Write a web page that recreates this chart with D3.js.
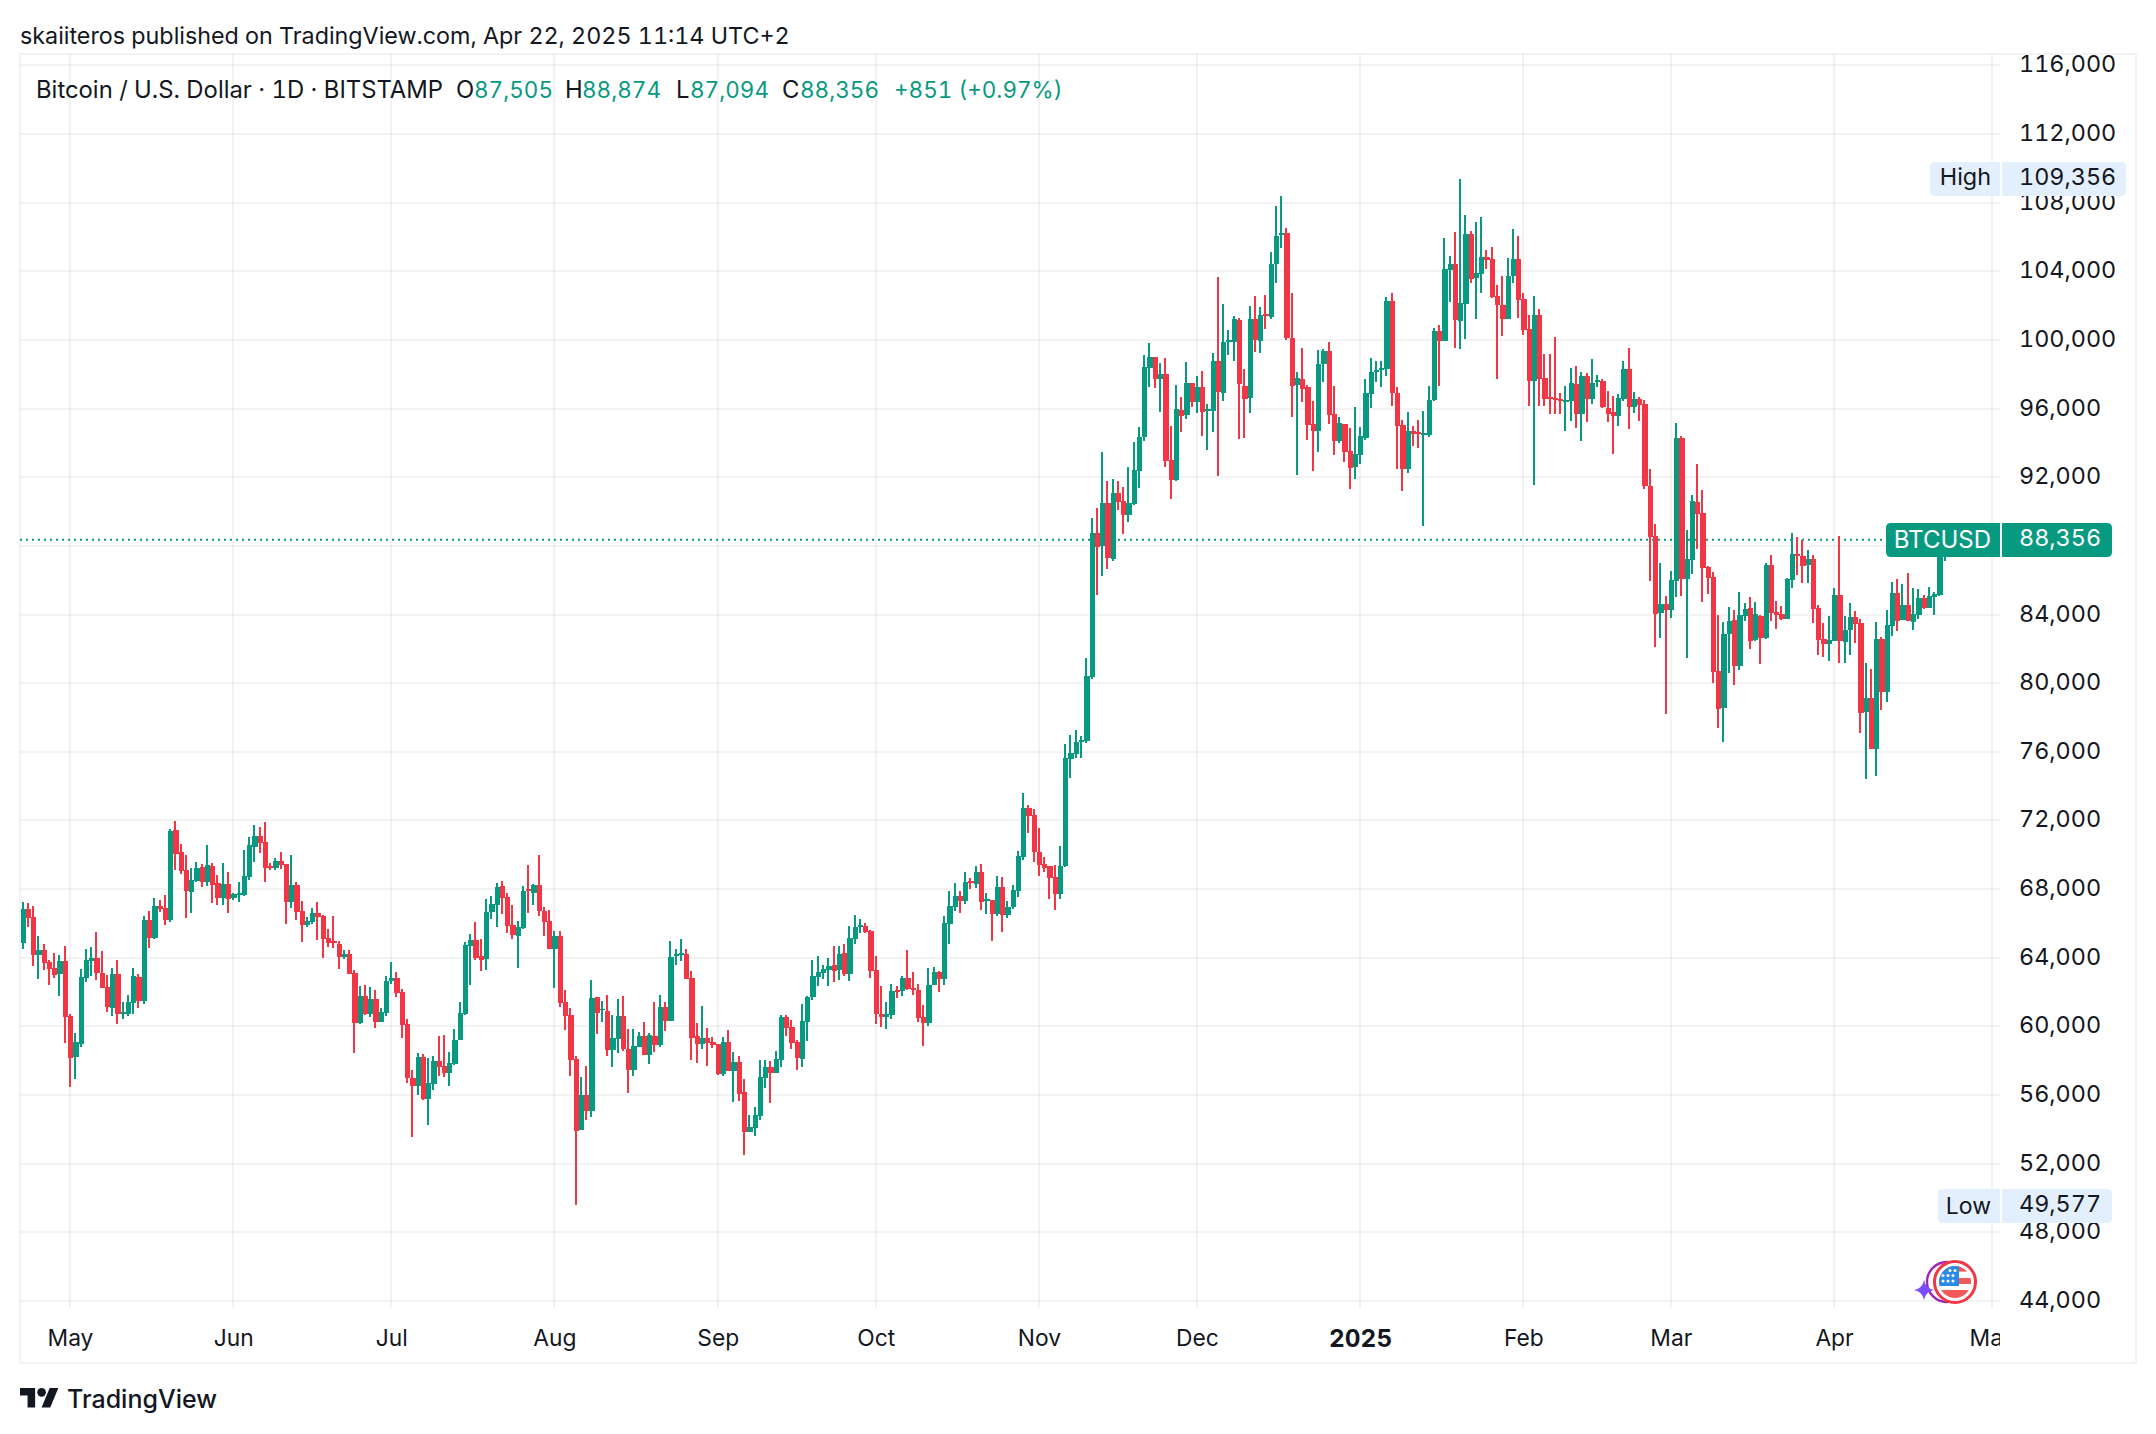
<!DOCTYPE html>
<html>
<head>
<meta charset="utf-8">
<title>Bitcoin / U.S. Dollar</title>
<script src="https://cdn.jsdelivr.net/npm/d3@7"></script>
<style>
  html, body { margin: 0; padding: 0; background: #fff; }
  svg { display: block; }
  text { font-family: Inter, "Noto Sans", sans-serif; fill: #131722; font-variant-numeric: tabular-nums; font-feature-settings: "tnum" 1; }
</style>
</head>
<body>
<svg id="chart" width="2156" height="1434"></svg>
<script>
// Daily BTCUSD candles, first session 22 Apr 2024, last session 22 Apr 2025.
const firstSession = "2024-04-22";

const opens = [
64870,66830,66360,64170,64440,63740,63390,63040,63800,60590,
58230,58960,62810,63800,63970,63100,62280,61060,63040,60710,
60710,61350,62870,61470,66190,65140,67000,66890,66190,71430,
70150,69100,67820,68460,69280,68400,69330,68340,67470,68290,
67470,67640,67640,68690,70440,71080,70730,69330,69220,69630,
69450,67240,68230,66710,65900,66070,66600,66420,65140,64960,
64790,64030,64210,63100,60190,61760,60710,61590,60250,60770,
62630,62810,61990,60130,56980,56520,58210,55760,56630,57970,
57680,57270,57800,59200,60710,64670,65020,64090,63920,66650,
67060,68170,67530,65900,65260,65720,67990,67760,68230,66710,
66130,64500,65260,61410,60650,58090,53950,55990,55060,61690,
60950,60890,58610,59260,60600,58670,57450,58790,59430,58320,
59430,58910,61120,60300,64090,64150,64210,62810,59430,58960,
59310,59080,58960,57220,59080,57390,57920,56170,53840,54070,
54770,56980,57620,57270,58030,60540,59950,59080,58090,60250,
61700,62870,63100,63280,63570,63280,64270,63040,65080,65780,
65840,65550,63280,60710,60540,60650,62110,62050,62810,62230,
62110,60540,60190,62400,63160,62750,65960,66950,67590,67300,
68460,68290,68980,67300,67350,66540,68110,66480,66950,67880,
69860,72710,72310,70150,69450,69330,68690,67700,69330,75570,
75860,76560,76620,80340,88730,87980,90480,87220,91060,90600,
89780,90420,92350,94330,98350,98990,97710,98000,92990,91820,
95900,95610,97470,96370,97240,95840,95840,98760,96890,99860,
99860,101140,97300,96600,101200,99920,101490,101320,104410,106100,
106210,100100,97360,97710,97240,95090,94680,98580,99340,95670,
94090,95080,93510,92580,93280,94270,96830,98110,98230,98290,
102250,96890,95030,92460,94680,94620,94440,94440,96480,100500,
99920,104060,104410,101090,102080,106150,103590,103820,104810,104700,
102540,102020,101200,103710,104700,102370,100620,97590,101440,97770,
96660,96600,96540,96370,96430,97420,95670,97880,96540,97530,
97590,96020,95780,95550,96540,98290,96080,96540,96250,91470,
88560,84070,84600,84250,85940,94270,86050,87160,90540,89900,
86750,86170,80700,78540,82850,83670,80990,83900,84370,82500,
83900,82620,86870,84130,84020,83720,86000,87510,87390,86870,
87220,84370,82560,82270,82440,85120,82380,83080,83840,83490,
78310,79120,76150,82560,79470,83320,85240,83670,84540,83550,
83960,84950,84370,85010,85120,87505
];

const highs = [
67240,67180,67000,65260,64790,63860,64270,64150,64670,60750,
59600,63330,64500,64620,65490,64380,62980,63390,63860,61410,
61820,63390,63040,66420,66710,67470,67350,67640,71490,71960,
70620,69970,69220,69570,69450,70560,69510,68810,69510,68980,
67760,68400,70270,71020,71720,71610,71900,69510,69800,70150,
69490,69970,68400,67300,66360,66890,67240,66480,65660,66420,
64960,64440,64440,63280,62340,62400,62280,62110,61060,62920,
63740,63160,62170,60420,57450,58440,58380,58150,58260,59430,
59490,58500,59840,61410,64910,65370,66070,65080,67410,67590,
68340,68460,67760,67060,66130,68170,69390,68290,69980,66950,
66770,65550,65550,62110,61060,58260,57040,57680,62690,61700,
61470,61820,60650,61590,61760,59840,59840,59660,60250,59610,
61410,61820,61410,64970,64500,65080,64500,63220,60190,61180,
59900,59370,59000,59370,59780,58500,58260,56930,54830,55290,
58030,58030,57970,58560,60650,60650,60360,59200,61290,61760,
63860,64090,63570,63970,64670,64670,64790,65840,66480,66250,
66010,65610,64090,62340,61410,62460,62340,62930,64440,63160,
62460,61240,63390,63450,63220,66420,67880,68340,67880,68980,
68640,69330,69450,67760,67350,68750,68690,67300,68230,70210,
73610,72890,72660,71550,69860,69330,69390,70500,76440,76970,
77260,76910,81450,89610,90190,93450,91760,91880,91760,91410,
92580,94040,94900,99100,99800,99000,98640,98930,94970,97360,
96660,98700,97480,97880,98170,96250,99220,103650,102080,100560,
101380,101260,98290,101960,102540,101900,102600,105110,107790,108370,
106500,102720,98110,99510,97360,96430,99400,99450,99860,97300,
95490,95090,94850,96080,94910,97710,98930,98760,98760,102480,
102720,97240,95320,95780,94970,95320,95840,97300,100680,100850,
105920,104870,106270,109356,107260,106330,106850,107150,105220,105400,
103180,103710,104760,106450,106040,102720,101440,102540,101790,99160,
99160,100150,96890,97300,98350,98460,98110,98060,98870,97940,
97710,97010,96720,96830,98760,99510,96950,96660,96480,92460,
89260,86990,85060,86520,95140,94390,88910,90950,92750,91240,
86810,86460,83960,83550,84420,84250,85300,84660,85010,84710,
83960,86990,87450,84770,84480,86110,88730,88500,88330,87740,
87450,84540,83490,83900,85530,88560,83900,84660,84190,83720,
81160,80810,83550,82680,84250,85880,86050,85760,86400,85530,
85470,85120,85590,85300,88560,88874
];

const lows = [
64520,65800,63510,62750,63280,62400,62810,61760,59020,56480,
56920,58810,62580,62920,62690,62230,60830,60590,60130,60420,
60590,60710,61060,61290,64560,65080,66650,65900,66070,69100,
68870,66300,66600,68400,68110,68170,67180,67060,67060,66600,
67350,67240,67590,68520,69570,70090,68400,69100,69100,69160,
65960,66890,66190,64910,65780,65960,65020,63970,64620,64560,
63330,63920,63030,58440,60150,60650,60540,59900,60240,60590,
62460,61700,59310,56690,53550,55990,55700,54250,56280,57100,
57040,56520,57740,59190,60650,62400,63860,63220,63280,66250,
65780,66540,65430,65080,63390,65660,66600,67060,66420,65260,
64490,62230,61120,59780,57100,49577,53940,54540,54710,59550,
60250,58260,57620,58440,58560,56110,57100,58780,58310,57800,
58500,58790,59720,60290,63570,63800,62740,58030,57860,58670,
57680,58730,57160,57100,57380,55590,55640,52500,53830,53600,
54540,56400,55530,57260,57620,59430,58670,57450,57620,59140,
61530,62340,62750,62340,62580,62690,62930,62630,64790,65430,
65430,62810,60130,59950,59840,60420,61640,61760,62110,61820,
60250,58850,60010,62390,61990,62400,64790,66710,66600,67120,
67990,68050,66770,66540,64960,66420,65490,66300,66830,67530,
69680,71260,69570,68750,68980,67410,66770,67410,69280,74460,
75630,75630,76500,80230,85120,86230,86640,87100,90070,88680,
89380,90370,91360,94090,97240,97180,95780,92580,90720,91760,
94620,95380,96080,95730,94390,93570,94620,92060,96430,99100,
98760,94210,94270,95730,99280,99220,100620,101200,103300,105340,
99980,95490,92110,96370,94150,92350,93450,97530,95090,93280,
93980,92870,91300,91880,92750,94150,96020,97530,97240,97880,
96130,92460,91180,92230,93800,93690,89140,94330,96430,97300,
99910,102190,99510,99450,100040,103300,101200,102720,104110,102430,
97710,100210,101190,103300,101260,100270,96130,91530,96130,96130,
95670,95670,95670,94680,95260,94850,94100,95200,96250,97240,
96020,95200,93340,94970,96430,94790,95730,95260,91300,85940,
82090,82620,78190,83780,85010,85060,81450,86350,87800,84710,
85180,80000,77370,76560,80580,79880,80750,83610,81980,82440,
81100,82560,83610,83140,83670,83710,85530,86290,85820,85820,
83490,81630,81510,81280,82430,81160,81160,81630,82330,77080,
74400,76140,74580,78420,78890,82730,83030,83660,83600,83080,
83720,84310,84360,83960,85060,87094
];

const closes = [
66830,66300,64170,64440,63700,63330,63000,63800,60560,58150,
59080,62870,63860,63970,63100,62230,61120,63040,60710,60830,
61410,62920,61470,66190,65140,67000,66830,66190,71370,70030,
69040,67880,68520,69220,68400,69390,68230,67470,68290,67410,
67700,67760,68750,70560,71080,70670,69220,69220,69630,69390,
67240,68230,66650,65900,66130,66600,66360,65080,64850,64850,
64030,64210,63040,60190,61760,60710,61590,60250,60830,62630,
62810,61940,60090,56980,56520,58210,55760,56690,57970,57620,
57270,57860,59200,60770,64730,65020,63970,63860,66650,67120,
68110,67470,65840,65310,65780,67880,67880,68230,66710,66070,
64500,65260,61350,60600,58030,53900,55990,55060,61640,60770,
61000,58610,59310,60600,58670,57450,58850,59430,58320,59490,
58910,61120,60300,64030,64210,64270,62750,59310,58960,59310,
59020,58910,57220,59080,57390,57920,56050,53840,54130,54830,
57040,57620,57270,58090,60540,59900,59020,58150,60300,61700,
62930,63160,63330,63510,63220,64210,63040,65140,65780,65900,
65490,63220,60710,60540,60710,62050,61990,62810,62170,62110,
60480,60190,62400,63160,62750,66010,67000,67590,67300,68400,
68340,68980,67240,67410,66540,68110,66480,66950,67940,69920,
72710,72250,70150,69390,69220,68640,67700,69330,75630,75920,
76560,76670,80400,88730,87920,90480,87280,91060,90540,89780,
90480,92400,94330,98410,98990,97710,98000,92930,91820,95960,
95550,97470,96370,97240,95780,95960,98760,96950,99860,99980,
101200,97420,96540,101200,99980,101440,101380,104410,106040,106210,
100100,97300,97770,97120,95030,94680,98580,99340,95610,94090,
95140,93450,92520,93340,94390,96890,98110,98230,98350,102250,
96890,94970,92460,94680,94500,94500,94560,96480,100500,99920,
104120,104410,101140,102130,106150,103530,103880,104810,104640,102480,
102020,101200,103710,104700,102310,100560,97590,101440,97710,96540,
96540,96480,96430,96480,97470,95670,97880,96540,97470,97650,
96080,95670,95550,96600,98290,96080,96540,96190,91470,88500,
84020,84600,84250,86000,94270,86050,87220,90600,89840,86700,
86110,80640,78480,82850,83610,80990,83960,84310,82440,84020,
82620,86870,84070,83960,83720,86050,87510,87390,86810,87220,
84310,82500,82270,82500,85120,82440,83080,83840,83430,78250,
79120,76150,82560,79470,83370,85240,83610,84540,83610,84020,
84950,84370,85060,85180,87505,88356
];

const priceTicks = d3.range(44000, 116001, 4000);
const monthTicks = ["2024-05-01","2024-06-01","2024-07-01","2024-08-01","2024-09-01","2024-10-01",
                    "2024-11-01","2024-12-01","2025-01-01","2025-02-01","2025-03-01","2025-04-01","2025-05-01"];
const headerLabels = [
  { text: "Bitcoin / U.S. Dollar · 1D · BITSTAMP", x: 36, up: false },
  { text: "O", x: 456, up: false }, { text: "87,505", x: 474, up: true },
  { text: "H", x: 565, up: false }, { text: "88,874", x: 582, up: true },
  { text: "L", x: 676, up: false }, { text: "87,094", x: 690, up: true },
  { text: "C", x: 782, up: false }, { text: "88,356", x: 800, up: true },
  { text: "+851 (+0.97%)", x: 894, up: true }
];
const lastPrice = 88356, highPrice = 109356, lowPrice = 49577;

const UP = "#089981", DOWN = "#F23645", GRID = "rgba(46,46,46,0.06)", TAG = "#E3EFFD";
const paneLeft = 20, paneRight = 1992, paneTop = 54, paneBottom = 1308, frameRight = 2136, frameBottom = 1363;
const NUMBER_SIZE = 23.4, LEGEND_SIZE = 23.85, LEGEND_NUMBER_SIZE = 22.5;

const parse = d3.utcParse("%Y-%m-%d");
const x = d3.scaleUtc().domain([parse("2024-05-01"), parse("2025-05-01")]).range([70, 1992]);
const y = d3.scaleLinear().domain([44000, 116000]).range([1301, 65.3]);
const dayOf = i => d3.utcDay.offset(parse(firstSession), i);
const svg = d3.select("#chart");

const defs = svg.append("defs");
defs.append("clipPath").attr("id", "pane").append("rect")
  .attr("x", paneLeft).attr("y", paneTop).attr("width", paneRight - paneLeft).attr("height", paneBottom - paneTop);
defs.append("clipPath").attr("id", "timeScale").append("rect")
  .attr("x", paneLeft).attr("y", paneBottom).attr("width", 2000 - paneLeft).attr("height", frameBottom - paneBottom);

svg.append("rect").attr("width", 2156).attr("height", 1434).attr("fill", "#fff");

// Publisher line and outer frame
svg.append("text").attr("x", 20).attr("y", 36).attr("dy", "0.35em").attr("font-size", 23.3)
  .text("skaiiteros published on TradingView.com, Apr 22, 2025 11:14 UTC+2");
svg.append("rect").attr("x", 20).attr("y", 54).attr("width", frameRight - 20).attr("height", frameBottom - 54)
  .attr("fill", "none").attr("stroke", GRID).attr("stroke-width", 2);

// Grid
const grid = svg.append("g").attr("shape-rendering", "crispEdges").attr("stroke", GRID).attr("stroke-width", 2);
grid.selectAll("line.h").data(priceTicks).join("line").attr("class", "h")
  .attr("x1", paneLeft).attr("x2", 2000).attr("y1", d => y(d)).attr("y2", d => y(d));
grid.selectAll("line.v").data(monthTicks).join("line").attr("class", "v")
  .attr("x1", d => x(parse(d))).attr("x2", d => x(parse(d))).attr("y1", paneTop).attr("y2", paneBottom);

// Last price line sits under the candles
svg.append("line").attr("x1", paneLeft).attr("x2", 1886).attr("y1", y(lastPrice)).attr("y2", y(lastPrice))
  .attr("stroke", UP).attr("stroke-width", 2).attr("stroke-dasharray", "2 4");

// Candles
const candles = svg.append("g").attr("clip-path", "url(#pane)").attr("shape-rendering", "crispEdges")
  .selectAll("g").data(d3.range(opens.length)).join("g")
  .attr("fill", i => closes[i] >= opens[i] ? UP : DOWN);
candles.append("rect")
  .attr("x", i => Math.round(x(dayOf(i))) - 1).attr("width", 2)
  .attr("y", i => y(highs[i])).attr("height", i => y(lows[i]) - y(highs[i]));
candles.append("rect")
  .attr("x", i => Math.round(x(dayOf(i))) - 2)
  .attr("width", i => Math.round(x(dayOf(i + 1))) - Math.round(x(dayOf(i))))
  .attr("y", i => y(Math.max(opens[i], closes[i])))
  .attr("height", i => Math.max(1, Math.abs(y(opens[i]) - y(closes[i]))));

// Axes; the 88,000 tick falls entirely under the last price tag and gets no label
const priceAxis = d3.axisRight(y).tickValues(priceTicks.filter(d => d !== 88000))
  .tickFormat(d3.format(",")).tickSize(0).tickPadding(0);
const gy = svg.append("g").attr("transform", "translate(2019,-1)").call(priceAxis);
gy.select(".domain").remove();
gy.selectAll("text").attr("font-size", NUMBER_SIZE).attr("font-family", "Inter").attr("fill", "#131722");

const timeAxis = d3.axisBottom(x).tickValues(monthTicks.map(parse)).tickSize(0).tickPadding(0)
  .tickFormat(d => d.getUTCMonth() === 0 ? d3.utcFormat("%Y")(d) : d3.utcFormat("%b")(d));
const gx = svg.append("g").attr("clip-path", "url(#timeScale)");
const gxInner = gx.append("g").attr("transform", "translate(0,1330)").call(timeAxis);
gxInner.select(".domain").remove();
gxInner.selectAll("text").attr("font-family", "Inter").attr("fill", "#131722")
  .attr("font-size", d => d.getUTCMonth() === 0 ? 24.4 : 22.8)
  .attr("font-weight", d => d.getUTCMonth() === 0 ? 700 : 400);

// Legend line above the pane
svg.append("g").selectAll("text").data(headerLabels).join("text")
  .attr("x", d => d.x).attr("y", 90).attr("dy", "0.35em")
  .attr("font-size", d => d.up ? LEGEND_NUMBER_SIZE : LEGEND_SIZE)
  .style("fill", d => d.up ? UP : "#131722").text(d => d.text);

// Price tags on the scale
function tag(price, name, leftX, valueRight, fill, color, opts) {
  const cy = Math.round(y(price)) + opts.shift, h = 34, r = 5;
  const g = svg.append("g");
  const roundedSide = (x0, x1, leftRounded) => {
    const p = d3.path();
    if (leftRounded) {
      p.moveTo(x1, cy - h / 2); p.lineTo(x1, cy + h / 2); p.lineTo(x0 + r, cy + h / 2);
      p.quadraticCurveTo(x0, cy + h / 2, x0, cy + h / 2 - r); p.lineTo(x0, cy - h / 2 + r);
      p.quadraticCurveTo(x0, cy - h / 2, x0 + r, cy - h / 2);
    } else {
      p.moveTo(x0, cy - h / 2); p.lineTo(x0, cy + h / 2); p.lineTo(x1 - r, cy + h / 2);
      p.quadraticCurveTo(x1, cy + h / 2, x1, cy + h / 2 - r); p.lineTo(x1, cy - h / 2 + r);
      p.quadraticCurveTo(x1, cy - h / 2, x1 - r, cy - h / 2);
    }
    p.closePath();
    return p.toString();
  };
  g.append("path").attr("d", roundedSide(leftX, 2000, true)).attr("fill", fill);
  g.append("path").attr("d", roundedSide(2002, valueRight, false)).attr("fill", fill);
  g.append("text").attr("x", 1991).attr("y", cy + opts.nameDy).attr("dy", "0.35em").attr("text-anchor", "end")
    .attr("font-size", opts.nameSize).style("fill", color).text(name);
  g.append("text").attr("x", 2019).attr("y", cy - 2).attr("dy", "0.35em")
    .attr("font-size", NUMBER_SIZE).style("fill", color).text(d3.format(",")(price));
}
tag(highPrice, "High", 1930, 2126, TAG, "#131722", { shift: 0, nameDy: -2, nameSize: 23.4 });
tag(lowPrice, "Low", 1938, 2112, TAG, "#131722", { shift: 1, nameDy: 0, nameSize: 23 });
tag(lastPrice, "BTCUSD", 1886, 2112, UP, "#ffffff", { shift: 0, nameDy: 0, nameSize: 24 });

// Economic event badge in the lower right of the pane
const badge = svg.append("g");
badge.append("circle").attr("cx", 1947).attr("cy", 1282).attr("r", 20)
  .attr("fill", "none").attr("stroke", "#9C27B0").attr("stroke-width", 2.4);
const sparkle = d3.path();
sparkle.moveTo(1924, 1280);
sparkle.quadraticCurveTo(1925.5, 1288.5, 1934, 1290);
sparkle.quadraticCurveTo(1925.5, 1291.5, 1924, 1300);
sparkle.quadraticCurveTo(1922.5, 1291.5, 1914, 1290);
sparkle.quadraticCurveTo(1922.5, 1288.5, 1924, 1280);
badge.append("path").attr("d", sparkle.toString()).attr("fill", "#7B4DFF");
badge.append("circle").attr("cx", 1955).attr("cy", 1282).attr("r", 20.5)
  .attr("fill", "#fff").attr("stroke", DOWN).attr("stroke-width", 3);
defs.append("clipPath").attr("id", "flagDisc").append("circle").attr("cx", 1955).attr("cy", 1282).attr("r", 16);
const flag = badge.append("g").attr("clip-path", "url(#flagDisc)");
flag.append("rect").attr("x", 1939).attr("y", 1266).attr("width", 32).attr("height", 32).attr("fill", "#fff");
[[1266, 5.6], [1278, 6], [1290, 8]].forEach(([top, h]) =>
  flag.append("rect").attr("x", 1939).attr("y", top).attr("width", 32).attr("height", h).attr("fill", "#F4595A"));
flag.append("rect").attr("x", 1939).attr("y", 1266).attr("width", 20).attr("height", 20).attr("fill", "#2B8AE8");
flag.selectAll("circle.star")
  .data([[1950, 1270.5], [1955, 1270.5], [1943, 1275.5], [1948, 1275.5], [1953, 1275.5], [1943, 1281], [1948, 1281], [1953, 1281]])
  .join("circle").attr("class", "star").attr("cx", d => d[0]).attr("cy", d => d[1]).attr("r", 1.5).attr("fill", "#fff");

// TradingView mark and wordmark
const mark = svg.append("g").attr("transform", "translate(20,1383.7) scale(1.08)").attr("fill", "#131722");
mark.append("path").attr("d", "M14 22H7V11H0V4h14v18zM28 22h-8l7.5-18h8L28 22z");
mark.append("circle").attr("cx", 20).attr("cy", 8).attr("r", 4);
svg.append("text").attr("x", 67).attr("y", 1399).attr("dy", "0.35em")
  .attr("font-size", 25).attr("font-weight", 500).text("TradingView");
</script>
</body>
</html>
